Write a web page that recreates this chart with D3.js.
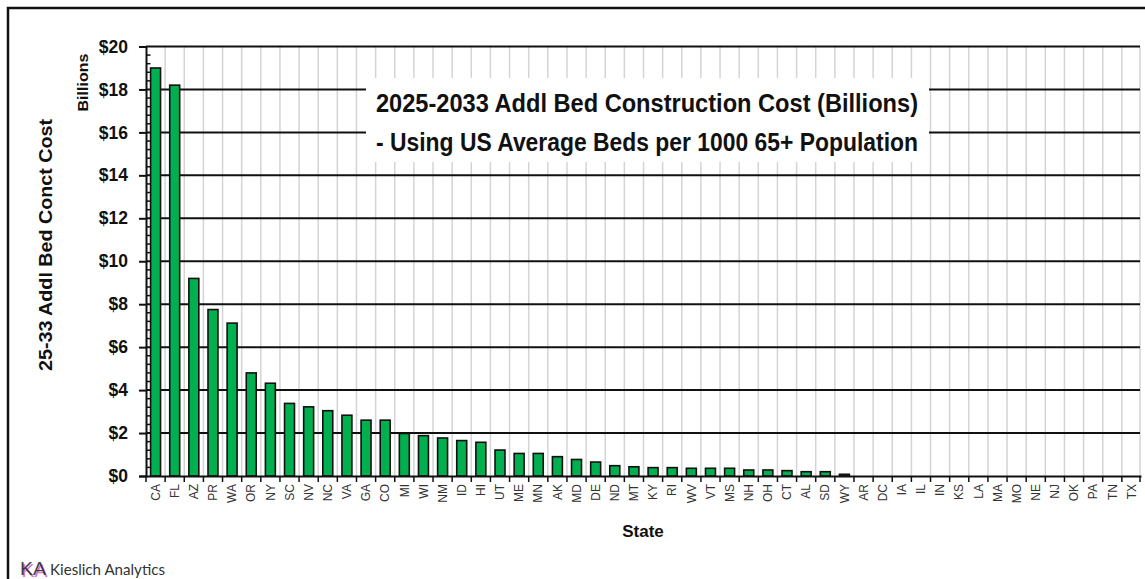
<!DOCTYPE html>
<html>
<head>
<meta charset="utf-8">
<script src="https://cdn.jsdelivr.net/npm/d3@7"></script>
<style>
  html, body { margin: 0; padding: 0; background: #fff; }
  svg { display: block; }
</style>
</head>
<body>
<svg id="chart" width="1145" height="579"></svg>
<script>
// States, in ranked order
const states = ["CA","FL","AZ","PR","WA","OR","NY","SC","NV","NC","VA","GA","CO","MI","WI","NM","ID","HI","UT","ME","MN","AK","MD","DE","ND","MT","KY","RI","WV","VT","MS","NH","OH","CT","AL","SD","WY","AR","DC","IA","IL","IN","KS","LA","MA","MO","NE","NJ","OK","PA","TN","TX"];
// 2025-2033 additional bed construction cost, $ billions
const costs = [19.0,18.2,9.2,7.75,7.12,4.8,4.32,3.38,3.22,3.04,2.83,2.6,2.6,1.98,1.88,1.77,1.65,1.57,1.21,1.05,1.05,0.9,0.77,0.65,0.48,0.43,0.39,0.39,0.36,0.36,0.36,0.28,0.28,0.25,0.2,0.2,0.08,0,0,0,0,0,0,0,0,0,0,0,0,0,0,0];
const yTicks = [0,2,4,6,8,10,12,14,16,18,20];
const titleLines = ["2025-2033 Addl Bed Construction Cost (Billions)", "- Using US Average Beds per 1000 65+ Population"];

const svg = d3.select("#chart");
const M = { left: 146, right: 1141, top: 46.5, bottom: 476 };
const FONT = "Liberation Sans, Arial, sans-serif";

const x = d3.scaleBand().domain(states).range([M.left, M.right]).paddingInner(0.48).paddingOuter(0.24);
const xb = d3.scaleBand().domain(states).range([M.left, M.right]);
const y = d3.scaleLinear().domain([0, 20]).range([M.bottom, M.top]);

// outer frame
svg.append("rect").attr("x", 8).attr("y", 8).attr("width", 1160).attr("height", 600)
  .attr("fill", "none").attr("stroke", "#111").attr("stroke-width", 2.5);

// vertical light gridlines at category boundaries
const bounds = states.map(s => xb(s)).slice(1).concat([M.right - 1]);
svg.append("g").selectAll("line").data(bounds).join("line")
  .attr("x1", d => d).attr("x2", d => d)
  .attr("y1", M.top).attr("y2", M.bottom)
  .attr("stroke", "#d4d4d4").attr("stroke-width", 1.5);

// horizontal major gridlines
svg.append("g").selectAll("line").data(yTicks.filter(d => d > 0)).join("line")
  .attr("x1", M.left).attr("x2", M.right - 1)
  .attr("y1", d => y(d)).attr("y2", d => y(d))
  .attr("stroke", "#111").attr("stroke-width", 2);

// minor ticks inside the y axis
const minor = d3.range(0, 20.001, 0.4).filter(v => Math.abs(v / 2 - Math.round(v / 2)) > 0.01);
svg.append("g").selectAll("line").data(minor).join("line")
  .attr("x1", M.left).attr("x2", M.left + 4.5)
  .attr("y1", d => y(d)).attr("y2", d => y(d))
  .attr("stroke", "#111").attr("stroke-width", 1.5);

// bars
svg.append("g").selectAll("rect").data(states).join("rect")
  .attr("x", d => x(d))
  .attr("width", x.bandwidth())
  .attr("y", (d, i) => y(costs[i]))
  .attr("height", (d, i) => y(0) - y(costs[i]))
  .attr("fill", "#00B050").attr("stroke", "#111").attr("stroke-width", 1.6);

// y axis
const yAxis = d3.axisLeft(y).tickValues(yTicks).tickSize(7).tickPadding(5)
  .tickFormat(d => "$" + d);
const gy = svg.append("g").attr("transform", `translate(${M.left},0)`).call(yAxis);
gy.select(".domain").attr("stroke", "#111").attr("stroke-width", 2);
gy.selectAll(".tick line").attr("stroke", "#111").attr("stroke-width", 2);
gy.selectAll(".tick text").attr("font-family", FONT)
  .attr("font-weight", "bold").attr("font-size", 17.5).attr("fill", "#111")
  .attr("dx", -6);

// x axis
const xAxis = d3.axisBottom(xb).tickSize(0).tickPadding(0);
const gx = svg.append("g").attr("transform", `translate(0,${M.bottom})`).call(xAxis);
gx.select(".domain").attr("stroke", "#111").attr("stroke-width", 2);
gx.selectAll(".tick text")
  .attr("font-family", FONT).attr("font-size", 12).attr("fill", "#333")
  .attr("text-anchor", "end").attr("dy", "0.35em")
  .attr("transform", "translate(0,8) rotate(-90)");
svg.append("g").selectAll("line").data([M.left].concat(bounds)).join("line")
  .attr("x1", d => d).attr("x2", d => d)
  .attr("y1", M.bottom).attr("y2", M.bottom + 6)
  .attr("stroke", "#111").attr("stroke-width", 1.5);

// axis titles
svg.append("text").attr("transform", "translate(52,245) rotate(-90)")
  .attr("text-anchor", "middle").attr("font-family", FONT)
  .attr("font-weight", "bold").attr("font-size", 19).attr("fill", "#111")
  .attr("textLength", 252).attr("lengthAdjust", "spacingAndGlyphs")
  .text("25-33 Addl Bed Conct Cost");
svg.append("text").attr("transform", "translate(87.5,82.5) rotate(-90)")
  .attr("text-anchor", "middle").attr("font-family", FONT)
  .attr("font-weight", "bold").attr("font-size", 14.5).attr("fill", "#111")
  .attr("textLength", 58).attr("lengthAdjust", "spacingAndGlyphs")
  .text("Billions");
svg.append("text").attr("x", 643).attr("y", 537)
  .attr("text-anchor", "middle").attr("font-family", FONT)
  .attr("font-weight", "bold").attr("font-size", 17).attr("fill", "#111")
  .text("State");

// title box
svg.append("rect").attr("x", 366).attr("y", 78).attr("width", 563).attr("height", 84).attr("fill", "#fff");
svg.append("g").selectAll("text").data(titleLines).join("text")
  .attr("x", 647).attr("y", (d, i) => 112 + i * 38.5)
  .attr("text-anchor", "middle")
  .attr("font-family", "Liberation Sans Narrow, Arial Narrow, sans-serif")
  .attr("font-weight", "bold").attr("font-size", 25).attr("fill", "#111")
  .attr("textLength", 542).attr("lengthAdjust", "spacingAndGlyphs")
  .text(d => d);

// brand mark: magenta offset behind black letters
const mark = svg.append("g");
[["#d24fd0", 1.5, 1.5], ["#222", 0, 0]].forEach(([c, dx, dy]) => {
  mark.append("text").attr("x", 20 + dx).attr("y", 575 + dy)
    .attr("font-family", FONT).attr("font-size", 19)
    .attr("fill", c).attr("opacity", c === "#222" ? 0.85 : 0.8)
    .attr("textLength", 26).attr("lengthAdjust", "spacingAndGlyphs")
    .text("KA");
});
svg.append("text").attr("x", 50).attr("y", 575)
  .attr("font-family", "Lato, Open Sans, sans-serif").attr("font-size", 16).attr("fill", "#333")
  .attr("textLength", 115).attr("lengthAdjust", "spacingAndGlyphs")
  .text("Kieslich Analytics");
</script>
</body>
</html>
